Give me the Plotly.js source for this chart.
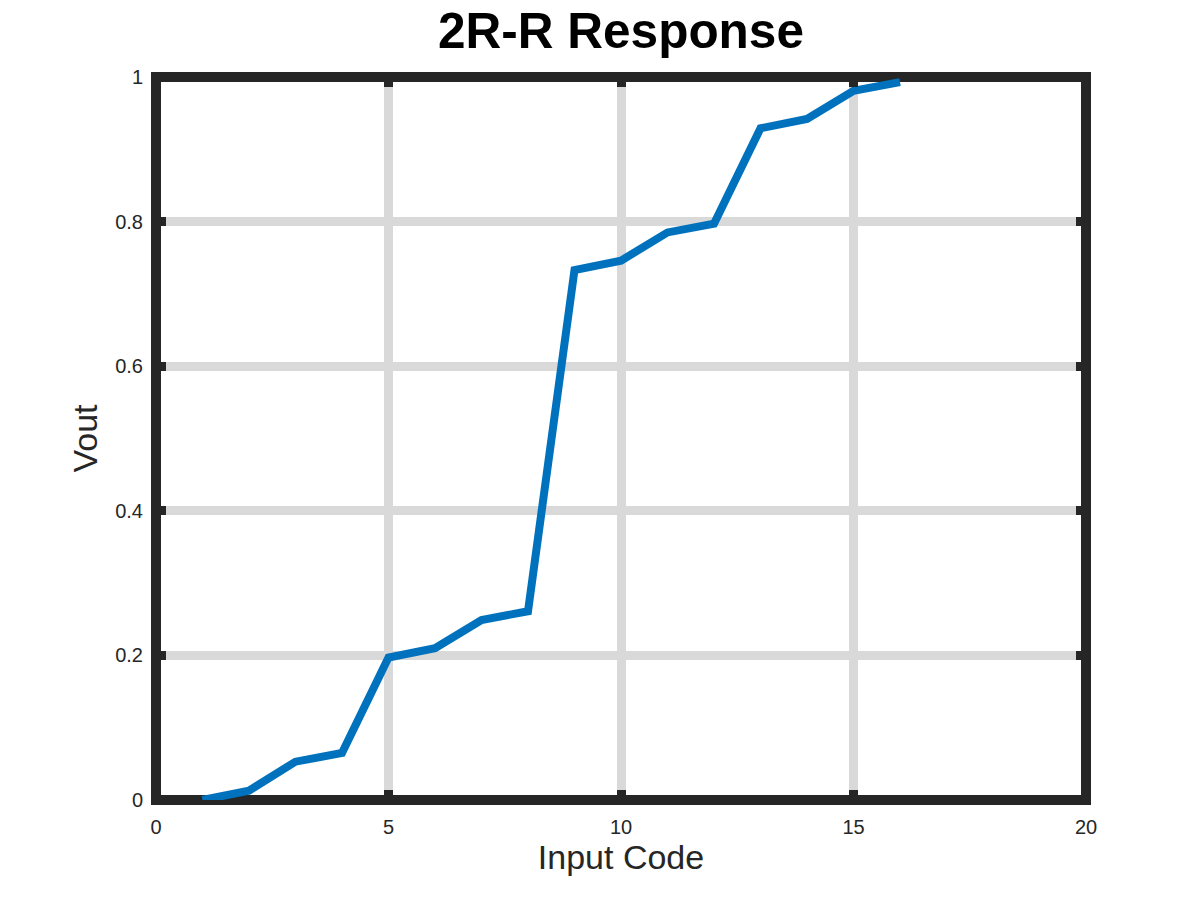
<!DOCTYPE html>
<html>
<head>
<meta charset="utf-8">
<script src="https://cdn.plot.ly/plotly-3.0.1.min.js"></script>
<style>html,body{margin:0;padding:0;background:#fff;}#chart{width:1200px;height:900px;}</style>
</head>
<body>
<div id="chart"></div>
<script>
// Data
const inputCode = [1, 2, 3, 4, 5, 6, 7, 8, 9, 10, 11, 12, 13, 14, 15, 16];
const vout = [0, 0.013, 0.053, 0.065, 0.197, 0.21, 0.249, 0.261, 0.733, 0.746, 0.785, 0.797, 0.929, 0.942, 0.981, 0.993];
const xTicks = [0, 5, 10, 15, 20];
const yTicks = [0, 0.2, 0.4, 0.6, 0.8, 1];
const yTickText = ['0', '0.2', '0.4', '0.6', '0.8', '1'];

const axisColor = '#262626';
const gridColor = '#d9d9d9';
const fontFamily = '"Liberation Sans", Arial, Helvetica, sans-serif';

const trace = {
  x: inputCode,
  y: vout,
  type: 'scatter',
  mode: 'lines',
  line: {color: '#0072BD', width: 8},
  cliponaxis: false,
  hoverinfo: 'x+y'
};

const layout = {
  width: 1200,
  height: 900,
  paper_bgcolor: '#ffffff',
  plot_bgcolor: '#ffffff',
  showlegend: false,
  margin: {l: 156, r: 114, t: 77, b: 100, pad: 0},
  font: {family: fontFamily, color: axisColor},
  title: {
    text: '<b>2R-R Response</b>',
    font: {family: fontFamily, size: 49.5, color: '#000000'},
    x: 0.5, xref: 'paper', xanchor: 'center',
    y: 1 - 31 / 900, yref: 'container', yanchor: 'middle'
  },
  xaxis: {
    range: [0, 20],
    tickvals: xTicks,
    ticktext: xTicks.map(String),
    showline: false,
    mirror: 'ticks',
    zeroline: false,
    showgrid: true,
    gridcolor: gridColor,
    gridwidth: 9,
    ticks: 'inside',
    ticklen: 10,
    tickwidth: 9,
    tickcolor: axisColor,
    tickfont: {family: fontFamily, size: 20, color: axisColor},
    ticklabelstandoff: 13,
    title: {text: 'Input Code', font: {family: fontFamily, size: 34, color: axisColor}, standoff: 0},
    fixedrange: true
  },
  yaxis: {
    range: [0, 1],
    tickvals: yTicks,
    ticktext: yTickText,
    showline: false,
    mirror: 'ticks',
    zeroline: false,
    showgrid: true,
    gridcolor: gridColor,
    gridwidth: 9,
    ticks: 'inside',
    ticklen: 10,
    tickwidth: 9,
    tickcolor: axisColor,
    tickfont: {family: fontFamily, size: 20, color: axisColor},
    ticklabelstandoff: 12,
    title: {text: 'Vout', font: {family: fontFamily, size: 34, color: axisColor}, standoff: 7},
    fixedrange: true
  },
  shapes: [{
    type: 'rect', xref: 'paper', yref: 'paper',
    x0: 0, x1: 1, y0: 0, y1: 1,
    line: {color: axisColor, width: 10},
    fillcolor: 'rgba(0,0,0,0)',
    layer: 'below'
  }]
};

Plotly.newPlot('chart', [trace], layout, {displayModeBar: false, staticPlot: true});
</script>
</body>
</html>
